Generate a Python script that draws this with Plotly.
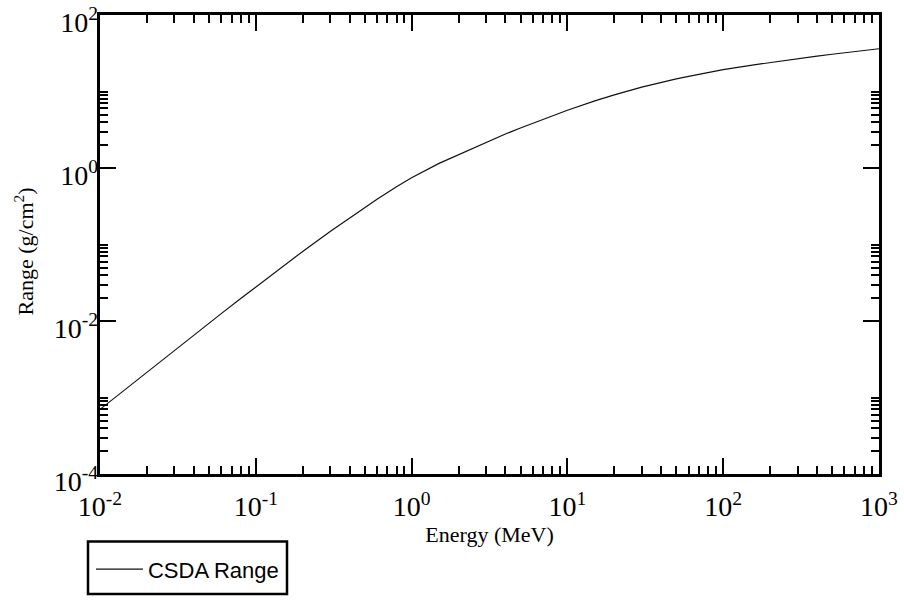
import plotly.graph_objects as go

energy_mev = [0.01, 0.015, 0.02, 0.03, 0.04, 0.05, 0.06, 0.08, 0.1, 0.15, 0.2, 0.3, 0.4, 0.5,
              0.6, 0.8, 1.0, 1.5, 2.0, 3.0, 4.0, 5.0, 6.0, 8.0, 10.0, 15.0, 20.0, 30.0, 40.0,
              50.0, 60.0, 80.0, 100.0, 150.0, 200.0, 300.0, 400.0, 500.0, 600.0, 800.0, 1000.0]
csda_range = [7.0e-4, 1.35e-3, 2.15e-3, 4.13e-3, 6.55e-3, 9.36e-3, 1.25e-2, 1.97e-2, 2.80e-2,
              5.25e-2, 8.13e-2, 0.148, 0.224, 0.306, 0.392, 0.570, 0.748, 1.15, 1.50, 2.17,
              2.78, 3.33, 3.85, 4.85, 5.70, 7.55, 9.05, 11.4, 13.2, 14.6, 15.8, 17.7, 19.3,
              22.0, 24.0, 26.9, 29.0, 30.7, 32.2, 34.4, 36.2]

x_major = [1e-2, 1e-1, 1e0, 1e1, 1e2, 1e3]
x_major_text = ["10<sup>-2</sup>", "10<sup>-1</sup>", "10<sup>0</sup>", "10<sup>1</sup>",
                "10<sup>2</sup>", "10<sup>3</sup>"]
y_major = [1e-4, 1e-2, 1e0, 1e2]
y_major_text = ["10<sup>-4</sup>", "10<sup>-2</sup>", "10<sup>0</sup>", "10<sup>2</sup>"]
minor_mult = [2, 3, 4, 5, 6, 7, 8, 9]
y_minor_mult = [2, 3, 4, 5, 6, 7, 8, 9, 10]

x_minor = [m * d for d in x_major[:-1] for m in minor_mult]
y_minor = [m * d for d in y_major[:-1] for m in y_minor_mult]

serif = "Liberation Serif"

# layout geometry (pixels)
H_PLOT = 470          # paper height
SHIFT = 7             # y tick labels sit slightly below their ticks, as in the original
W_PLOT = 779

fig = go.Figure()
fig.add_trace(go.Scatter(x=energy_mev, y=csda_range, mode="lines", name="CSDA Range",
                         line=dict(color="#111111", width=1.2)))
# empty trace so the label-carrying y axis is drawn
fig.add_trace(go.Scatter(x=[], y=[], yaxis="y2", showlegend=False, hoverinfo="skip"))

tick_common = dict(
    type="log", showgrid=False, zeroline=False, tickmode="array", automargin=False,
    ticklabeloverflow="allow", tickfont=dict(family=serif, size=28, color="black"),
)

fig.update_layout(
    width=904, height=602,
    margin=dict(l=100, r=25, t=15, b=117),
    paper_bgcolor="white", plot_bgcolor="rgba(0,0,0,0)",
    xaxis=dict(tick_common, range=[-2, 3], tickvals=x_major, ticktext=x_major_text,
               showline=True, linecolor="black", linewidth=2.5, mirror="ticks",
               ticks="inside", ticklen=16, tickwidth=1.5, tickcolor="black",
               ticklabelstandoff=6, anchor="y",
               minor=dict(tickmode="array", tickvals=x_minor, ticks="inside", ticklen=8,
                          tickwidth=1.5, tickcolor="black", showgrid=False),
               title=dict(text="Energy (MeV)", font=dict(family=serif, size=22, color="black"),
                          standoff=2)),
    yaxis=dict(tick_common, range=[-4, 2], tickvals=y_major, showticklabels=False,
               domain=[SHIFT / H_PLOT, 1], anchor="x",
               showline=True, linecolor="black", linewidth=2.5, mirror="ticks",
               ticks="inside", ticklen=16, tickwidth=1.5, tickcolor="black",
               minor=dict(tickmode="array", tickvals=y_minor, ticks="inside", ticklen=8,
                          tickwidth=1.5, tickcolor="black", showgrid=False)),
    yaxis2=dict(tick_common, range=[-4, 2], tickvals=y_major, ticktext=y_major_text,
                domain=[0, 1 - SHIFT / H_PLOT], anchor="x", side="left",
                showline=False, ticks="", ticklabelstandoff=1,
                title=dict(text="Range (g/cm<sup>2</sup>)",
                           font=dict(family=serif, size=22, color="black"), standoff=13)),
    showlegend=True,
    legend=dict(x=-0.0116, y=(485 - 553) / H_PLOT, xanchor="left", yanchor="top",
                itemwidth=47, bgcolor="rgba(0,0,0,0)", borderwidth=0,
                font=dict(family="Liberation Sans", size=22, color="black")),
)

fig.add_shape(type="rect", xref="paper", yref="paper",
              x0=-12 / W_PLOT, x1=187 / W_PLOT,
              y0=(485 - 599) / H_PLOT, y1=(485 - 546) / H_PLOT,
              line=dict(color="black", width=2.5), fillcolor="rgba(0,0,0,0)")

fig.write_html("out.html")
